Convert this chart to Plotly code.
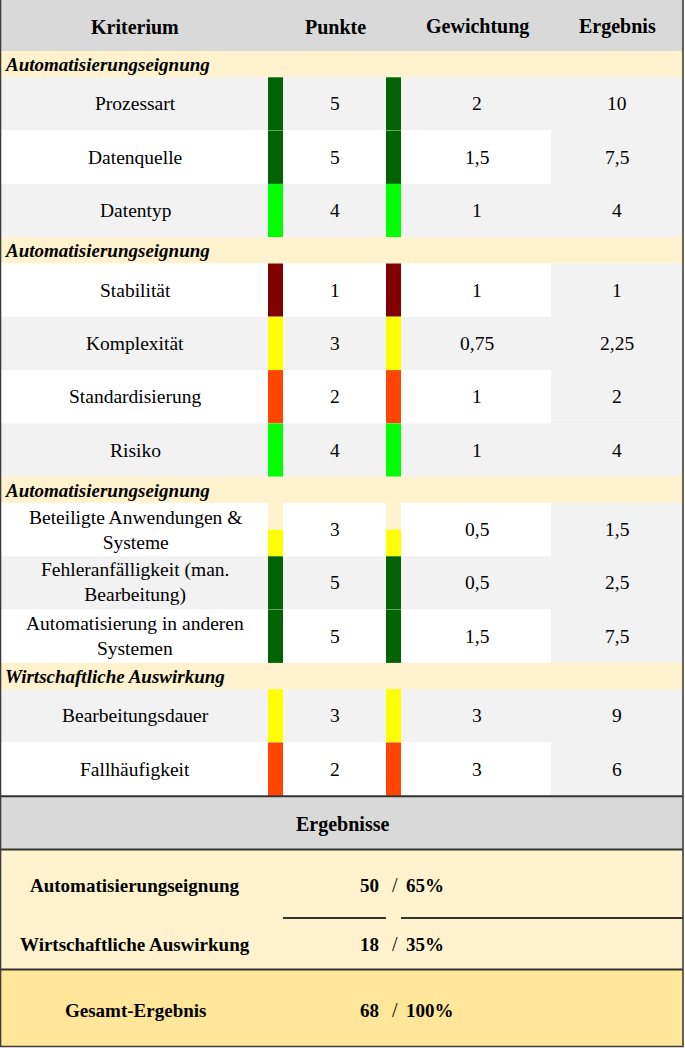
import plotly.graph_objects as go

# ---------------- data ----------------
header_labels = ["Kriterium", "Punkte", "Gewichtung", "Ergebnis"]
section_names = ["Automatisierungseignung", "Automatisierungseignung",
                 "Automatisierungseignung", "Wirtschaftliche Auswirkung"]
section_sizes = [3, 4, 3, 2]
kriterien = ["Prozessart", "Datenquelle", "Datentyp",
             "Stabilität", "Komplexität", "Standardisierung", "Risiko",
             "Beteiligte Anwendungen &<br>Systeme",
             "Fehleranfälligkeit (man.<br>Bearbeitung)",
             "Automatisierung in anderen<br>Systemen",
             "Bearbeitungsdauer", "Fallhäufigkeit"]
punkte = [5, 5, 4, 1, 3, 2, 4, 3, 5, 5, 3, 2]
gewichtung = [2, 1.5, 1, 1, 0.75, 1, 1, 0.5, 0.5, 1.5, 3, 3]
ergebnis = [10, 7.5, 4, 1, 2.25, 2, 4, 1.5, 2.5, 7.5, 9, 6]
indicator_fill = [1, 1, 1, 1, 1, 1, 1, 0.5, 1, 1, 1, 1]

summary_title = "Ergebnisse"
summary_labels = ["Automatisierungseignung", "Wirtschaftliche Auswirkung"]
summary_points = [50, 18]
summary_share = [65, 35]
total_label = "Gesamt-Ergebnis"
total_points = 68
total_share = 100

# ---------------- styles / layout constants ----------------
W, H = 685, 1048
FONT = "Liberation Serif, Times New Roman, serif"
score_colors = {5: "#006400", 4: "#00ff00", 3: "#ffff00", 2: "#ff4500", 1: "#800000"}
C_HEAD = "#d9d9d9"
C_SEC = "#fff2cc"
C_GRAY = "#f2f2f2"
C_WHITE = "#ffffff"
C_TOTAL = "#ffe699"
C_LINE = "#333333"

X_RIGHT = 683
X_KRIT = 135
X_BAR1 = (268, 283)
X_PUNKTE = 335
X_BAR2 = (386, 401)
X_GEW = 477
X_ERG_BG = 551
X_ERG = 617

HEAD_H = 51
SEC_H = 26.3
ROW_H = 53.3


def fmt(v):
    s = ("%g" % v)
    return s.replace(".", ",")


shapes = []
ann = []


def rect(x0, x1, y0, y1, color):
    shapes.append(dict(type="rect", xref="x", yref="y", x0=x0, x1=x1, y0=y0, y1=y1,
                       fillcolor=color, line=dict(width=0), layer="below"))


def text(x, y, s, size=19, bold=False, italic=False, xanchor="center"):
    t = s
    if bold:
        t = "<b>" + t + "</b>"
    if italic:
        t = "<i>" + t + "</i>"
    ann.append(dict(x=x, y=y, xref="x", yref="y", text=t, showarrow=False,
                    xanchor=xanchor, yanchor="middle",
                    font=dict(family=FONT, size=size, color="#000000")))


# header
rect(0, X_RIGHT, 0, HEAD_H, C_HEAD)
for lab, xc in zip(header_labels, [X_KRIT, X_PUNKTE, X_GEW, X_ERG]):
    text(xc, HEAD_H / 2 + 1, lab, size=20, bold=True)

y = HEAD_H
i = 0
for sname, ssize in zip(section_names, section_sizes):
    rect(0, X_RIGHT, y, y + SEC_H, C_SEC)
    text(3, y + SEC_H / 2 + 0.5, sname, size=19, bold=True, italic=True, xanchor="left")
    y += SEC_H
    for _ in range(ssize):
        bg = C_GRAY if i % 2 == 0 else C_WHITE
        rect(0, X_ERG_BG, y, y + ROW_H, bg)
        rect(X_ERG_BG, X_RIGHT, y, y + ROW_H, C_GRAY)
        col = score_colors[punkte[i]]
        frac = indicator_fill[i]
        for bx in (X_BAR1, X_BAR2):
            if frac < 1:
                rect(bx[0], bx[1], y, y + ROW_H * (1 - frac), C_SEC)
            rect(bx[0], bx[1], y + ROW_H * (1 - frac), y + ROW_H, col)
        yc = y + ROW_H / 2
        text(X_KRIT, yc, kriterien[i], size=19.5)
        text(X_PUNKTE, yc, fmt(punkte[i]), size=19.5)
        text(X_GEW, yc, fmt(gewichtung[i]), size=19.5)
        text(X_ERG, yc, fmt(ergebnis[i]), size=19.5)
        y += ROW_H
        i += 1

# summary block
y_top = y + 1
rect(0, X_RIGHT, y_top, 849.5, C_HEAD)
text(342, 824, summary_title, size=20, bold=True)
rect(0, X_RIGHT, 849.5, 969.5, C_SEC)
rect(0, X_RIGHT, 969.5, 1046.5, C_TOTAL)

ys = [885.5, 944.5]
for lab, p, s, yy in zip(summary_labels, summary_points, summary_share, ys):
    text(X_KRIT, yy, lab, size=19, bold=True)
    text(381, yy, str(p), size=19, bold=True, xanchor="right")
    text(395, yy - 1, "/", size=20, xanchor="center")
    text(404, yy, "%d%%" % s, size=19, bold=True, xanchor="left")
yt = 1010.5
text(X_KRIT, yt, total_label, size=19, bold=True)
text(381, yt, str(total_points), size=19, bold=True, xanchor="right")
text(395, yt - 1, "/", size=20, xanchor="center")
text(404, yt, "%d%%" % total_share, size=19, bold=True, xanchor="left")

# lines
def hline(x0, x1, yy, w=2):
    shapes.append(dict(type="line", xref="x", yref="y", x0=x0, x1=x1, y0=yy, y1=yy,
                       line=dict(color=C_LINE, width=w), layer="above"))

hline(0, X_RIGHT, y_top - 0.5)
hline(0, X_RIGHT, 849.5)
hline(X_BAR1[1], X_BAR2[0], 918)
hline(X_BAR2[1], X_RIGHT, 918)
hline(0, X_RIGHT, 969.5)

# outer border
shapes.append(dict(type="rect", xref="x", yref="y", x0=0.5, x1=X_RIGHT, y0=-2, y1=1046.5,
                   line=dict(color="#3c3c3c", width=1.6), fillcolor="rgba(0,0,0,0)", layer="above"))

fig = go.Figure()
fig.add_trace(go.Scatter(x=[0, W], y=[0, H], mode="markers", marker=dict(opacity=0),
                         hoverinfo="skip", showlegend=False))
fig.update_layout(
    width=W, height=H, margin=dict(l=0, r=0, t=0, b=0),
    paper_bgcolor="white", plot_bgcolor="white",
    xaxis=dict(range=[0, W], visible=False, fixedrange=True),
    yaxis=dict(range=[H, 0], visible=False, fixedrange=True),
    shapes=shapes, annotations=ann, showlegend=False,
)
fig.write_html("out.html", config={"displayModeBar": False},
               post_script="document.body.style.margin='0';")
